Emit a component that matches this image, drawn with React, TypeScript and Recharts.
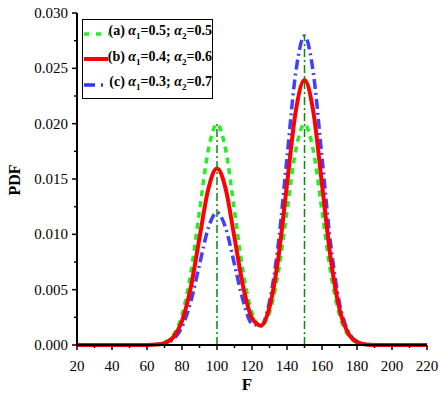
import { LineChart, Line, XAxis, YAxis, ReferenceLine } from 'recharts';

document.body.style.margin = '0';

const fValues = [
  20, 25, 30, 35, 40, 45, 50, 55, 60, 65, 70, 75, 80, 85, 90, 95, 100, 105, 110, 115, 120,
  125, 130, 135, 140, 145, 150, 155, 160, 165, 170, 175, 180, 185, 190, 195, 200, 205, 210, 215, 220,
];
// (a) α1=0.5; α2=0.5
const pdfA = [
  0, 0, 0, 0, 0, 0, 0, 0.000001, 0.0000067, 0.000044, 0.00022, 0.00088, 0.0027, 0.00648, 0.0121, 0.0176,
  0.01995, 0.0176, 0.0121, 0.00652, 0.00292, 0.00175, 0.00292, 0.00652, 0.0121, 0.0176, 0.01995, 0.0176,
  0.0121, 0.00648, 0.0027, 0.00088, 0.00022, 0.000044, 0.0000067, 0.000001, 0, 0, 0, 0, 0,
];
// (b) α1=0.4; α2=0.6
const pdfB = [
  0, 0, 0, 0, 0, 0, 0, 0.000001, 0.0000054, 0.000035, 0.000177, 0.000701, 0.00216, 0.00518, 0.00968, 0.01408,
  0.01596, 0.01408, 0.00969, 0.00523, 0.00243, 0.00175, 0.00342, 0.00781, 0.01452, 0.02112, 0.02394, 0.02112,
  0.01452, 0.00777, 0.00324, 0.00105, 0.000266, 0.000052, 0.000008, 0.000001, 0, 0, 0, 0, 0,
];
// (c) α1=0.3; α2=0.7
const pdfC = [
  0, 0, 0, 0, 0, 0, 0, 0, 0.000004, 0.000026, 0.000133, 0.000526, 0.00162, 0.00389, 0.00726, 0.01056,
  0.01197, 0.01056, 0.00727, 0.00395, 0.00193, 0.00175, 0.00391, 0.00909, 0.01694, 0.02464, 0.02793, 0.02464,
  0.01694, 0.00907, 0.00378, 0.00123, 0.00031, 0.000061, 0.000009, 0.000001, 0, 0, 0, 0, 0,
];

const peakF = [100, 150];
const peakTop = [0.02, 0.028];

const xTicks = [20, 30, 40, 50, 60, 70, 80, 90, 100, 110, 120, 130, 140, 150, 160, 170, 180, 190, 200, 210, 220];
const yTicks = [0, 0.0025, 0.005, 0.0075, 0.01, 0.0125, 0.015, 0.0175, 0.02, 0.0225, 0.025, 0.0275, 0.03];

const data = fValues.map((f, i) => ({ f, a: pdfA[i], b: pdfB[i], c: pdfC[i] }));

const FONT = '"Liberation Serif", "Times New Roman", serif';

const XTick = (props: any) => {
  const { x, y, payload } = props;
  const major = payload.value % 20 === 0;
  return (
    <g>
      <line x1={x} x2={x} y1={y} y2={y + (major ? 5 : 3)} stroke="#000" strokeWidth={1.5} />
      {major && (
        <text x={x} y={y + 26} textAnchor="middle" fontFamily={FONT} fontSize={15} fill="#000">
          {payload.value}
        </text>
      )}
    </g>
  );
};

const YTick = (props: any) => {
  const { x, y, payload } = props;
  const major = Math.round(payload.value / 0.0025) % 2 === 0;
  return (
    <g>
      <line x1={x} x2={x - (major ? 5 : 3)} y1={y} y2={y} stroke="#000" strokeWidth={1.5} />
      {major && (
        <text x={x - 9} y={y + 5} textAnchor="end" fontFamily={FONT} fontSize={15} fill="#000">
          {payload.value.toFixed(3)}
        </text>
      )}
    </g>
  );
};

const Alpha = ({ n }: { n: number }) => (
  <>
    <i>α</i>
    <sub style={{ fontSize: 9 }}>{n}</sub>
  </>
);

const legendRows = [
  { key: 'a', label: '(a)', a1: '0.5', a2: '0.5', color: '#22f022', dash: '5 7', width: 3.5, opacity: 1 },
  { key: 'b', label: '(b)', a1: '0.4', a2: '0.6', color: '#ff0000', dash: undefined, width: 4, opacity: 1 },
  { key: 'c', label: '(c)', a1: '0.3', a2: '0.7', color: '#0000ff', dash: '11 6 2 6', width: 3.5, opacity: 0.8 },
];

export default function App() {
  return (
    <div style={{ position: 'relative', width: 440, height: 394, background: '#fff' }}>
      <LineChart width={440} height={394} data={data} margin={{ top: 13, right: 13, bottom: 0, left: 0 }}>
        <XAxis
          dataKey="f"
          type="number"
          domain={[20, 220]}
          ticks={xTicks}
          interval={0}
          height={49}
          tickSize={0}
          tickMargin={0}
          tickLine={false}
          axisLine={{ stroke: '#000', strokeWidth: 2 }}
          tick={<XTick />}
          label={{
            content: () => (
              <text x={247} y={390} textAnchor="middle" fontFamily={FONT} fontWeight="bold" fontSize={17}>
                F
              </text>
            ),
          }}
        />
        <XAxis
          xAxisId="top"
          dataKey="f"
          type="number"
          domain={[20, 220]}
          orientation="top"
          height={0}
          tick={false}
          tickLine={false}
          axisLine={{ stroke: '#000', strokeWidth: 2 }}
        />
        <YAxis
          type="number"
          domain={[0, 0.03]}
          ticks={yTicks}
          interval={0}
          width={77}
          tickSize={0}
          tickMargin={0}
          tickLine={false}
          axisLine={{ stroke: '#000', strokeWidth: 2 }}
          tick={<YTick />}
          label={{
            content: () => (
              <text
                x={14}
                y={180}
                textAnchor="middle"
                dominantBaseline="central"
                fontFamily={FONT}
                fontWeight="bold"
                fontSize={16}
                transform="rotate(-90 14 180)"
              >
                PDF
              </text>
            ),
          }}
        />
        <YAxis
          yAxisId="right"
          orientation="right"
          width={0}
          domain={[0, 0.03]}
          tick={false}
          tickLine={false}
          axisLine={{ stroke: '#000', strokeWidth: 2 }}
        />
        <Line
          dataKey="a"
          type="monotone"
          stroke="#22f022"
          strokeWidth={3.5}
          strokeDasharray="6 5"
          dot={false}
          isAnimationActive={false}
        />
        <Line
          dataKey="c"
          type="monotone"
          stroke="#0000ff"
          strokeOpacity={0.75}
          strokeWidth={3.5}
          strokeDasharray="10 4 2 4"
          dot={false}
          isAnimationActive={false}
        />
        <Line
          dataKey="b"
          type="monotone"
          stroke="#ff0000"
          strokeWidth={4}
          dot={false}
          isAnimationActive={false}
        />
        {peakF.map((f, i) => (
          <ReferenceLine
            key={f}
            segment={[
              { x: f, y: 0 },
              { x: f, y: peakTop[i] },
            ]}
            stroke="#0a8a0a"
            strokeWidth={1.5}
            strokeDasharray="8 3 2 3"
          />
        ))}
      </LineChart>
      <div
        style={{
          position: 'absolute',
          left: 82,
          top: 19,
          width: 129,
          height: 77,
          border: '1px solid #000',
          background: '#fff',
          fontFamily: FONT,
          fontWeight: 'bold',
          fontSize: 14,
          lineHeight: '25.5px',
          paddingTop: 1,
        }}
      >
        {legendRows.map((r) => (
          <div key={r.key} style={{ display: 'flex', alignItems: 'center', height: 25.5 }}>
            <svg width={30} height={10} style={{ marginLeft: 1 }}>
              <line
                x1={0}
                x2={27}
                y1={5}
                y2={5}
                stroke={r.color}
                strokeOpacity={r.opacity}
                strokeWidth={r.width}
                strokeDasharray={r.dash}
              />
            </svg>
            <span style={{ whiteSpace: 'nowrap' }}>
              {r.label} <Alpha n={1} />={r.a1}; <Alpha n={2} />={r.a2}
            </span>
          </div>
        ))}
      </div>
    </div>
  );
}
